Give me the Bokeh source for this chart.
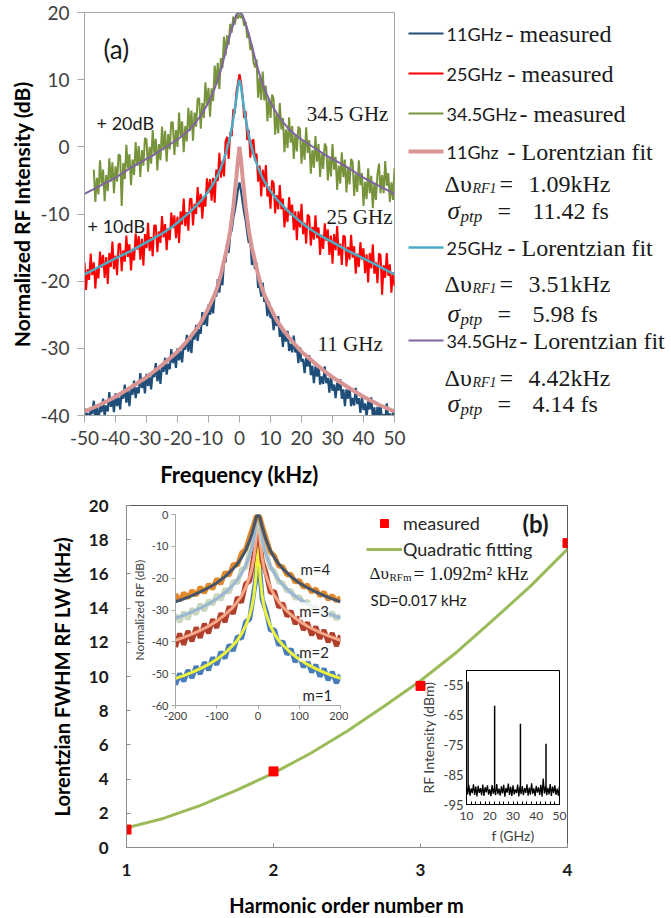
from bokeh.plotting import figure
from bokeh.models import Range1d, FixedTicker, Label, Legend, LegendItem
from bokeh.embed import file_html
from bokeh.resources import INLINE

SANS = "Lato"
SERIF = "Liberation Serif"

# ================= Panel (a): RF spectra =================
A_FREQ = [v / 2 for v in range(-100, 101)]          # -50 ... 50 kHz, 0.5 kHz steps
A_FREQ_345 = [v / 2 for v in range(-94, 101)]       # -47 ... 50 kHz
A_MEAS_11 = [
    -38.9, -40.8, -39.6, -41.4, -38.8, -39.8, -37.8, -40.5, -38.8, -41.1,
    -38.3, -39.5, -37.5, -40.1, -38.5, -39.4, -36.5, -38.7, -37.5, -39.5,
    -36.7, -38.6, -37.3, -39.1, -36.5, -37.5, -35.4, -38.1, -36.3, -38.6,
    -35.7, -36.9, -34.8, -37.4, -35.8, -36.7, -33.7, -35.9, -34.7, -36.7,
    -33.8, -35.6, -34.3, -36.1, -33.4, -34.3, -32.2, -34.9, -33.1, -35.3,
    -32.4, -33.5, -31.4, -33.9, -32.3, -33.1, -30.1, -32.2, -31.0, -32.9,
    -30.0, -31.8, -30.4, -32.1, -29.3, -30.2, -28.0, -30.5, -28.6, -30.7,
    -27.7, -28.7, -26.5, -28.9, -27.1, -27.8, -24.6, -26.5, -25.1, -26.7,
    -23.5, -25.0, -23.4, -24.8, -21.8, -22.3, -19.7, -21.7, -19.2, -20.6,
    -16.9, -17.2, -14.3, -15.8, -13.1, -12.4, -10.6, -9.5, -8.0, -6.4,
    -5.3,
    -6.6, -8.2, -9.8, -11.0, -12.8, -14.3, -14.0, -17.6, -15.9, -18.2,
    -17.3, -21.0, -20.5, -22.3, -20.2, -23.1, -22.6, -25.2, -23.0, -25.5,
    -24.9, -27.3, -25.2, -26.7, -25.2, -28.3, -27.1, -29.8, -27.4, -29.0,
    -27.4, -30.4, -29.3, -30.6, -28.1, -30.6, -29.9, -32.2, -29.8, -32.0,
    -31.6, -33.7, -31.4, -32.7, -31.0, -34.0, -32.6, -35.2, -32.7, -34.2,
    -32.5, -35.4, -34.2, -35.3, -32.7, -35.2, -34.4, -36.6, -34.1, -36.3,
    -35.4, -37.4, -35.1, -36.3, -34.6, -37.5, -36.1, -38.6, -36.1, -37.5,
    -35.8, -38.6, -37.4, -38.5, -35.9, -38.3, -37.4, -39.6, -37.1, -39.2,
    -38.2, -40.2, -37.9, -39.1, -37.3, -40.2, -38.8, -41.3, -38.7, -40.1,
    -38.3, -41.1, -39.8, -40.9, -38.2, -40.6, -39.7, -41.9, -39.3, -41.4]
A_MEAS_25 = [
    -17.2, -21.3, -18.2, -19.8, -15.9, -19.1, -17.2, -21.1, -17.9, -19.6,
    -15.6, -18.0, -16.1, -19.5, -16.4, -20.4, -15.8, -17.9, -14.1, -18.2,
    -16.2, -19.1, -14.5, -14.4, -18.5, -15.4, -17.1, -13.2, -16.4, -14.5,
    -18.4, -15.2, -16.9, -12.9, -15.3, -13.3, -16.8, -13.7, -17.7, -13.0,
    -15.1, -11.3, -15.5, -13.4, -16.3, -11.7, -11.7, -15.7, -12.6, -14.3,
    -10.3, -13.5, -11.5, -15.4, -12.1, -13.9, -9.8, -12.1, -10.2, -13.6,
    -10.4, -14.3, -9.6, -11.6, -7.7, -11.8, -9.7, -12.5, -7.8, -7.7,
    -11.7, -8.5, -10.0, -6.0, -9.0, -7.0, -10.7, -7.3, -8.9, -4.7,
    -6.9, -4.8, -8.0, -4.6, -8.3, -3.4, -5.1, -0.9, -4.6, -2.1,
    -4.4, 0.8, 1.5, -1.8, 2.2, 1.6, 5.6, 5.0, 8.2, 9.5,
    10.8,
    9.6, 7.6, 4.3, 5.3, 1.0, 2.5, -1.6, 0.8, 1.1, -2.1,
    -1.0, -5.2, -2.8, -7.4, -3.4, -6.0, -2.7, -7.4, -5.9, -9.2,
    -5.0, -5.4, -9.9, -7.2, -9.3, -5.7, -9.3, -7.7, -12.0, -9.1,
    -11.2, -7.5, -10.2, -8.6, -12.4, -9.6, -13.9, -9.6, -12.0, -8.5,
    -13.0, -11.3, -14.4, -10.1, -10.4, -14.7, -11.9, -13.8, -10.2, -13.6,
    -12.0, -16.1, -13.1, -15.2, -11.4, -14.0, -12.3, -16.1, -13.2, -17.4,
    -13.0, -15.4, -11.8, -16.2, -14.4, -17.6, -13.2, -13.4, -17.8, -14.9,
    -16.8, -13.1, -16.5, -14.8, -18.9, -15.9, -17.9, -14.2, -16.8, -15.1,
    -18.8, -16.0, -20.2, -15.8, -18.1, -14.5, -18.9, -17.2, -20.3, -15.9,
    -16.1, -22.0, -17.6, -19.5, -15.8, -19.2, -17.5, -21.7, -18.7, -20.7]
A_MEAS_345 = [
    -3.4, -8.2, -4.6, -7.1, -2.0, -5.5, -3.4, -8.1, -4.2, -6.6,
    -1.7, -5.2, -2.3, -6.9, -2.9, -5.2, -1.1, -1.3, -8.8, -2.4,
    -4.8, 0.3, -3.2, -1.1, -5.7, -1.9, -4.2, 0.7, -2.8, 0.1,
    -4.5, -0.5, -2.8, 1.3, 1.1, -3.7, 0.0, -2.5, 2.5, -1.0,
    1.2, -3.5, 0.4, -2.0, 3.0, -0.5, 2.4, -2.2, 1.9, -0.4,
    3.7, 3.6, -1.2, 2.5, 0.0, 5.1, 1.6, 3.8, -0.8, 3.1,
    0.8, 5.8, 2.4, 5.4, 0.9, 5.1, 3.0, 7.2, 7.2, 2.7,
    6.5, 4.3, 9.6, 6.4, 8.8, 4.5, 8.7, 6.8, 12.1, 9.2,
    12.5, 8.6, 13.2, 11.7, 16.4,
    13.6, 16.6, 15.2, 18.3, 17.0, 19.4, 18.2, 19.8, 19.1, 19.7,
    19.2, 19.5, 18.0, 18.6, 16.2, 16.9, 14.4, 15.3, 12.6,
    11.8, 13.0, 7.3, 10.3, 7.0, 11.2, 6.9, 9.1, 3.8, 7.2,
    4.3, 7.8, 7.1, 1.8, 4.9, 2.0, 6.5, 2.6, 4.3, -0.8,
    2.6, -0.2, 4.4, 0.6, 3.1, -1.8, 1.9, -0.7, 3.0, 2.6,
    -2.5, 0.9, -1.9, 2.9, -0.9, 1.0, -4.0, -0.5, -3.1, 1.6,
    -2.2, 0.4, -4.5, -0.8, -3.3, 0.5, 0.0, -5.0, -1.6, -4.4,
    0.4, -3.4, -1.5, -6.4, -2.8, -5.5, -0.8, -4.5, -1.9, -6.8,
    -3.0, -5.6, -1.8, -2.3, -7.3, -4.0, -6.7, -2.0, -5.7, -3.9,
    -8.8, -5.2, -7.8, -3.2, -6.9, -4.3, -9.1, -5.4, -7.9, -4.1,
    -2.5, -6.9, -4.2, -6.9, -2.1, -5.8, -3.9, -8.2, -5.3, -7.9, -3.2]
A_FIT_X = [-50, -45, -40, -35, -30, -28, -25, -22, -20, -18, -16, -14, -12, -10, -9, -8, -7,
           -6, -5, -4, -3, -2, -1, -0.5, 0, 0.5, 1, 2, 3, 4, 5, 6, 7, 8, 9, 10, 12, 14, 16,
           18, 20, 22, 25, 28, 30, 35, 40, 45, 50]
A_FIT_11 = [-39.4, -38.4, -37.2, -35.8, -34.3, -33.6, -32.5, -31.3, -30.5, -29.5, -28.4, -27.2,
            -25.8, -24.0, -23.0, -22.0, -20.7, -19.0, -17.0, -15.0, -12.5, -9.0, -4.5, -2.0,
            0.0,
            -2.0, -4.5, -9.0, -12.5, -15.0, -17.0, -19.0, -20.7, -22.0, -23.0, -24.0, -25.8,
            -27.2, -28.4, -29.5, -30.5, -31.3, -32.5, -33.6, -34.3, -35.8, -37.2, -38.4, -39.4]
A_FIT_25 = [-19.0, -17.8, -16.6, -15.5, -14.2, -13.7, -12.9, -12.0, -11.3, -10.5, -9.7, -8.8,
            -7.8, -6.6, -5.9, -5.1, -4.2, -3.1, -1.8, -0.3, 1.6, 4.1, 7.2, 9.0,
            10.0,
            9.0, 7.2, 4.1, 1.6, -0.3, -1.8, -3.1, -4.2, -5.1, -5.9, -6.6, -7.8,
            -8.8, -9.7, -10.5, -11.3, -12.0, -12.9, -13.7, -14.2, -15.5, -16.6, -17.8, -19.0]
A_FIT_345 = [-7.0, -5.8, -4.6, -3.1, -1.8, -1.3, -0.4, 0.5, 1.1, 1.8, 2.6, 3.7,
             5.0, 6.6, 7.6, 8.7, 10.0, 11.5, 13.2, 15.0, 16.8, 18.3, 19.6, 19.9,
             20.0,
             19.9, 19.6, 18.3, 16.8, 15.0, 13.2, 11.5, 10.0, 8.7, 7.6, 6.6, 5.0,
             3.7, 2.6, 1.8, 1.1, 0.5, -0.4, -1.3, -1.8, -3.1, -4.6, -5.8, -7.0]
A_XTICKS = [-50, -40, -30, -20, -10, 0, 10, 20, 30, 40, 50]
A_XLABELS = ["-50", "-40", "-30", "-20", "-10", "0", "10", "20", "30", "40", "50"]
A_YTICKS = [-40, -30, -20, -10, 0, 10, 20]
A_YLABELS = ["-40", "-30", "-20", "-10", "0", "10", "20"]

# legend of panel (a)
LEG_NAMES = ["11GHz", "25GHz", "34.5GHz", "11Ghz", "25GHz", "34.5GHz"]
LEG_KINDS = ["- measured", "- measured", "- measured",
             "- Lorentzian fit", "- Lorentzian fit", "- Lorentzian fit"]
LEG_COLORS = ["#1f4e79", "#ff0000", "#77933c", "#d99594", "#4bacc6", "#8064a2"]
FIT_DV = ["1.09kHz", "3.51kHz", "4.42kHz"]
FIT_SIGMA = ["11.42 fs", "5.98 fs", "4.14 fs"]

# ================= Panel (b): linewidth vs harmonic =================
M_ORDER = [1, 2, 3, 4]
LW_MEAS = [1.05, 4.45, 9.45, 17.8]
FIT_M = [1.0, 1.25, 1.5, 1.75, 2.0, 2.25, 2.5, 2.75, 3.0, 3.25, 3.5, 3.75, 4.0]
FIT_LW = [1.15, 1.7, 2.45, 3.35, 4.35, 5.5, 6.8, 8.25, 9.75, 11.45, 13.35, 15.3, 17.45]
B_XTICKS = [1, 2, 3, 4]
B_XLABELS = ["1", "2", "3", "4"]
B_YTICKS = [0, 2, 4, 6, 8, 10, 12, 14, 16, 18, 20]
B_YLABELS = ["0", "2", "4", "6", "8", "10", "12", "14", "16", "18", "20"]

# inset 1: normalized spectra of harmonics m = 1..4
I_X_MEAS = list(range(-200, 0, 10)) + [-5, 0, 5] + list(range(10, 201, 10))
I_M4_MEAS = [-25.0, -27.1, -24.6, -26.2, -23.9, -25.4, -22.8, -24.6, -21.9, -23.4,
             -20.2, -21.8, -18.1, -19.2, -15.6, -16.0, -12.1, -10.9, -6.8, -3.0,
             -0.8, 0.0, -1.0,
             -3.4, -7.6, -11.8, -12.9, -16.2, -16.4, -19.0, -18.7, -21.3, -20.6,
             -22.9, -22.1, -24.4, -23.3, -25.6, -24.4, -26.7, -25.4, -27.2, -26.0]
I_M3_MEAS = [-31.4, -33.8, -30.6, -32.9, -29.6, -31.3, -28.1, -30.2, -26.9, -28.3,
             -25.1, -26.9, -23.3, -24.6, -20.8, -21.6, -17.2, -16.8, -11.4, -6.6,
             -2.9, -0.5, -3.5,
             -7.9, -12.1, -16.9, -17.8, -21.3, -21.4, -24.1, -23.8, -26.4, -25.7,
             -28.0, -27.2, -29.5, -28.6, -30.8, -29.7, -31.9, -30.7, -32.9, -31.6]
I_M2_MEAS = [-41.6, -37.4, -40.9, -36.6, -39.8, -35.5, -38.7, -34.3, -37.3, -32.9,
             -35.6, -31.0, -33.8, -28.9, -31.2, -26.0, -27.6, -21.8, -20.9, -12.6,
             -8.9, -1.0, -7.6,
             -14.5, -18.6, -24.6, -24.1, -29.2, -27.9, -32.0, -30.3, -34.4, -32.2,
             -36.3, -33.9, -37.9, -35.2, -39.0, -36.3, -40.1, -37.2, -41.3, -38.0]
I_M1_MEAS = [-53.5, -50.0, -52.4, -48.9, -51.3, -47.7, -50.1, -46.4, -48.9, -44.9,
             -47.2, -43.1, -45.2, -40.9, -42.8, -38.3, -39.0, -33.7, -32.9, -24.2,
             -20.3, -3.0, -18.7,
             -26.6, -30.4, -36.4, -36.2, -41.1, -39.8, -44.0, -42.2, -46.3, -44.2,
             -48.0, -45.8, -49.6, -47.2, -50.9, -48.4, -52.0, -49.4, -53.0, -50.4]
I_X_FIT = [-200, -180, -160, -140, -120, -100, -80, -60, -50, -40, -30, -20, -15, -10, -5, -2,
           0, 2, 5, 10, 15, 20, 30, 40, 50, 60, 80, 100, 120, 140, 160, 180, 200]
I_M4_FIT = [-27.4, -26.5, -25.5, -24.3, -23.0, -21.5, -19.5, -17.0, -15.5, -13.6, -11.3, -8.1,
            -6.1, -3.7, -1.2, -0.2, 0.0, -0.2, -1.2, -3.7, -6.1, -8.1, -11.3, -13.6, -15.5,
            -17.0, -19.5, -21.5, -23.0, -24.3, -25.5, -26.5, -27.4]
I_M3_FIT = [-32.5, -31.6, -30.6, -29.4, -28.1, -26.5, -24.6, -22.1, -20.5, -18.6, -16.1, -12.7,
            -10.4, -7.3, -3.2, -0.7, 0.0, -0.7, -3.2, -7.3, -10.4, -12.7, -16.1, -18.6, -20.5,
            -22.1, -24.6, -26.5, -28.1, -29.4, -30.6, -31.6, -32.5]
I_M2_FIT = [-39.5, -38.6, -37.6, -36.4, -35.1, -33.5, -31.5, -29.0, -27.4, -25.5, -23.0, -19.5,
            -17.1, -13.6, -8.2, -2.8, 0.0, -2.8, -8.2, -13.6, -17.1, -19.5, -23.0, -25.5, -27.4,
            -29.0, -31.5, -33.5, -35.1, -36.4, -37.6, -38.6, -39.5]
I_M1_FIT = [-51.5, -50.6, -49.6, -48.4, -47.1, -45.5, -43.5, -41.0, -39.5, -37.5, -35.0, -31.5,
            -29.0, -25.5, -19.5, -11.7, 0.0, -11.7, -19.5, -25.5, -29.0, -31.5, -35.0, -37.5,
            -39.5, -41.0, -43.5, -45.5, -47.1, -48.4, -49.6, -50.6, -51.5]
I_XTICKS = [-200, -100, 0, 100, 200]
I_XLABELS = ["-200", "-100", "0", "100", "200"]
I_YTICKS = [-60, -50, -40, -30, -20, -10, 0]
I_YLABELS = ["-60", "-50", "-40", "-30", "-20", "-10", "0"]

# inset 2: RF spectrum 10-50 GHz
SPEC_F = [v / 2 for v in range(20, 101)]
SPEC_P = [-89.1, -91.6, -88.4, -92.0, -89.6, -91.2, -88.2, -91.8, -89.0, -92.3,
          -88.7, -91.1, -89.5, -91.9, -88.3, -92.1, -89.2, -90.9, -88.6, -91.7,
          -89.8, -92.2, -88.5, -91.4, -89.3, -91.9, -88.1, -91.5, -89.7, -92.0,
          -88.9, -91.3, -88.4, -92.4, -89.4, -91.0, -88.0, -91.8, -89.1, -92.1,
          -88.6, -91.6, -89.9, -91.2, -88.3, -92.3, -89.0, -91.5, -88.8, -91.9,
          -89.5, -91.1, -88.2, -92.0, -89.3, -91.7, -87.9, -91.4, -89.6, -92.2,
          -88.7, -91.0, -89.2, -91.8, -88.4, -92.4, -86.3, -91.3, -88.9, -91.9,
          -89.4, -91.6, -88.1, -92.1, -89.0, -91.2, -88.6, -91.8, -89.7, -92.0, -88.8]
PEAK_F = [10.7, 22.1, 33.2, 44.2]
PEAK_P = [-53.7, -61.8, -67.9, -74.6]
PEAK_BASE = [-90.4, -90.0, -89.6, -90.2]
S_XTICKS = [10, 20, 30, 40, 50]
S_XMINOR = [12, 14, 16, 18, 22, 24, 26, 28, 32, 34, 36, 38, 42, 44, 46, 48]
S_XLABELS = ["10", "20", "30", "40", "50"]
S_YTICKS = [-95, -85, -75, -65, -55]
S_YLABELS = ["-95", "-85", "-75", "-65", "-55"]


def base_fig(xr, yr, fw, fh, left, right, top, bottom, **kw):
    p = figure(x_range=Range1d(*xr), y_range=Range1d(*yr), frame_width=fw, frame_height=fh,
               min_border_left=left, min_border_right=right, min_border_top=top,
               min_border_bottom=bottom, output_backend="svg", toolbar_location=None, **kw)
    p.xgrid.visible = False
    p.ygrid.visible = False
    p.background_fill_alpha = 0
    p.border_fill_alpha = 0
    return p


def style_axis(ax, ticks, labels, size, color, bold=False, t_in=0, t_out=5, line="#a6a6a6",
               standoff=5, lab_size="18px", lab_bold=True, lab_standoff=5, minor=None):
    ax.ticker = FixedTicker(ticks=ticks, minor_ticks=minor or [])
    ax.major_label_overrides = {t: l for t, l in zip(ticks, labels)}
    ax.major_label_text_font = SANS
    ax.major_label_text_font_size = size
    ax.major_label_text_color = color
    ax.major_label_text_font_style = "bold" if bold else "normal"
    ax.major_label_standoff = standoff
    ax.axis_line_color = line
    ax.major_tick_line_color = line
    ax.major_tick_in = t_in
    ax.major_tick_out = t_out
    if minor:
        ax.minor_tick_line_color = line
        ax.minor_tick_in = t_in
        ax.minor_tick_out = t_out
    else:
        ax.minor_tick_line_color = None
    ax.axis_label_text_font = SANS
    ax.axis_label_text_font_size = lab_size
    ax.axis_label_text_font_style = "bold" if lab_bold else "normal"
    ax.axis_label_text_color = "#000000" if lab_bold else "#404040"
    ax.axis_label_standoff = lab_standoff


def note(p, x, y, text, font=SANS, size="18px", style="normal", color="#1a1a1a", **kw):
    p.add_layout(Label(x=x, y=y, text=text, text_font=font, text_font_size=size,
                       text_font_style=style, text_color=color, text_baseline="middle", **kw))


# ---------- figure (a)
pa = base_fig((-50, 50), (-40, 20), 310, 403, 84, 14, 12, 76,
              x_axis_label="Frequency (kHz)", y_axis_label="Normalized RF Intensity (dB)")
pa.outline_line_color = "#a6a6a6"
style_axis(pa.xaxis[0], A_XTICKS, A_XLABELS, "19px", "#404040", t_out=7, standoff=8,
           lab_size="22px", lab_standoff=13)
style_axis(pa.yaxis[0], A_YTICKS, A_YLABELS, "19px", "#404040", t_out=7, standoff=8,
           lab_size="21px", lab_standoff=3)
pa.line(A_FREQ_345, A_MEAS_345, color=LEG_COLORS[2], line_width=2)
pa.line(A_FIT_X, A_FIT_345, color=LEG_COLORS[5], line_width=2)
pa.line(A_FREQ, A_MEAS_25, color=LEG_COLORS[1], line_width=2)
pa.line(A_FIT_X, A_FIT_25, color=LEG_COLORS[4], line_width=2.5)
pa.line(A_FREQ, A_MEAS_11, color=LEG_COLORS[0], line_width=2.2)
pa.line(A_FIT_X, A_FIT_11, color=LEG_COLORS[3], line_width=4)
note(pa, -43.9, 14.6, "(a)", size="26px")
note(pa, -46.1, 3.6, "+ 20dB", size="18px")
note(pa, -49.0, -11.8, "+ 10dB", size="18px")
note(pa, 21.7, 4.9, "34.5 GHz", font=SERIF, size="21px")
note(pa, 28.1, -10.4, "25 GHz", font=SERIF, size="21px")
note(pa, 25.2, -29.4, "11 GHz", font=SERIF, size="21px")

# ---------- legend of (a), laid out in page pixels
pl = figure(x_range=Range1d(398, 671), y_range=Range1d(420, 0), frame_width=273,
            frame_height=420, min_border=0, x_axis_location=None, y_axis_location=None,
            output_backend="svg", toolbar_location=None)
pl.grid.visible = False
pl.outline_line_color = None
pl.background_fill_alpha = 0
pl.border_fill_alpha = 0
ROW_Y = [33, 73, 113, 151, 247, 340]
KIND_X = [505, 507, 519, 507, 507, 519]
pl.segment(x0=[408] * 6, y0=ROW_Y, x1=[443] * 6, y1=ROW_Y, color=LEG_COLORS,
           line_width=[2, 2, 2, 4, 2.5, 2])
for name, kind, y, kx in zip(LEG_NAMES, LEG_KINDS, ROW_Y, KIND_X):
    note(pl, 446, y, name, size="18px")
    note(pl, kx, y, kind, font=SERIF, size="24px")
DV_Y = [183, 283, 377]
SG_Y = [210, 313, 403]
for dv, sg, yd, ys in zip(FIT_DV, FIT_SIGMA, DV_Y, SG_Y):
    note(pl, 444, yd, "Δυ", font=SERIF, size="24px")
    note(pl, 472, yd + 5, "RF1", font=SERIF, size="14px", style="italic")
    note(pl, 499, yd, "=", font=SERIF, size="24px")
    note(pl, 528, yd, dv, font=SERIF, size="24px")
    note(pl, 447, ys, "σ", font=SERIF, size="25px", style="italic")
    note(pl, 460, ys + 6, "ptp", font=SERIF, size="17px", style="italic")
    note(pl, 497, ys, "=", font=SERIF, size="24px")
    note(pl, 532, ys, sg, font=SERIF, size="24px")

# ---------- figure (b)
pb = base_fig((1, 4), (0, 20), 441, 342, 126, 30, 15, 70,
              x_axis_label="Harmonic order number m", y_axis_label="Lorentzian FWHM RF LW (kHz)")
pb.outline_line_color = "#595959"
style_axis(pb.xaxis[0], B_XTICKS, B_XLABELS, "17px", "#1a1a1a", bold=True, t_in=4, t_out=0,
           line="#8c8c8c", standoff=16, lab_size="20px", lab_standoff=14)
style_axis(pb.yaxis[0], B_YTICKS, B_YLABELS, "17px", "#1a1a1a", bold=True, t_in=4, t_out=0,
           line="#8c8c8c", standoff=18, lab_size="20px", lab_standoff=12)
r_fit = pb.line(FIT_M, FIT_LW, color="#9bbb59", line_width=3)
r_meas = pb.scatter(M_ORDER, LW_MEAS, marker="square", size=9, color="#ff0000")
leg = Legend(items=[LegendItem(label="measured", renderers=[r_meas]),
                    LegendItem(label="Quadratic fitting", renderers=[r_fit])],
             location=(240, 287), glyph_width=36, glyph_height=20, label_height=20,
             spacing=4, padding=0, margin=0, label_standoff=1,
             label_text_font=SANS, label_text_font_size="18px", label_text_color="#262626",
             border_line_alpha=0, background_fill_alpha=0)
pb.add_layout(leg)
note(pb, 2.653, 16.02, "Δυ", font=SERIF, size="17px")
note(pb, 2.789, 15.80, "RFm", font=SERIF, size="11px")
note(pb, 2.952, 16.02, "= 1.092m² kHz", font=SERIF, size="19px")
note(pb, 2.660, 14.50, "SD=0.017 kHz", size="15px")
note(pb, 3.694, 18.95, "(b)", size="24px", style="bold")

# ---------- inset 1
pi = base_fig((-200, 200), (-60, 0), 165, 191, 45, 8, 10, 28,
              y_axis_label="Normalized RF (dB)")
pi.outline_line_color = None
style_axis(pi.xaxis[0], I_XTICKS, I_XLABELS, "11px", "#404040", t_in=0, t_out=3,
           standoff=3)
style_axis(pi.yaxis[0], I_YTICKS, I_YLABELS, "11px", "#404040", t_in=0, t_out=4,
           standoff=3, lab_size="12px", lab_bold=False, lab_standoff=2)
for meas, fit, cm, cf in [(I_M1_MEAS, I_M1_FIT, "#4a7ebb", "#eef23c"),
                          (I_M2_MEAS, I_M2_FIT, "#b0402c", "#f7a889"),
                          (I_M3_MEAS, I_M3_FIT, "#c9d8bc", "#9bb7d4"),
                          (I_M4_MEAS, I_M4_FIT, "#e3892b", "#44546a")]:
    pi.line(I_X_MEAS, meas, color=cm, line_width=5)
    pi.line(I_X_FIT, fit, color=cf, line_width=3)
for txt, x, y in [("m=4", 103, -17.2), ("m=3", 100, -30.4), ("m=2", 100, -43.3),
                  ("m=1", 108, -56.8)]:
    note(pi, x, y, txt, size="15px", color="#262626", background_fill_color="white",
         background_fill_alpha=0.8 if txt in ("m=3", "m=2") else 0)

# ---------- inset 2
ps = base_fig((10, 50), (-95, -50), 93, 134, 50, 10, 8, 45,
              x_axis_label="f (GHz)", y_axis_label="RF Intensity (dBm)")
ps.outline_line_color = "#000000"
style_axis(ps.xaxis[0], S_XTICKS, S_XLABELS, "12px", "#404040", t_in=3, t_out=0,
           line="#000000", standoff=7, lab_size="14px", lab_bold=False, lab_standoff=4,
           minor=S_XMINOR)
style_axis(ps.yaxis[0], S_YTICKS, S_YLABELS, "13px", "#404040", t_in=0, t_out=0,
           line="#000000", standoff=3, lab_size="14px", lab_bold=False, lab_standoff=4)
ps.line(SPEC_F, SPEC_P, color="black", line_width=1.3)
ps.segment(x0=PEAK_F, y0=PEAK_BASE, x1=PEAK_F, y1=PEAK_P, color="black", line_width=1.5)

# ---------- page: panels placed at absolute pixel positions
PLACES = [(0, 0), (398, 0), (0, 490), (128, 504), (416, 662)]
divs = "".join('<div style="position:absolute;left:%dpx;top:%dpx;">{{ embed(roots[%d]) }}</div>\n'
               % (x, y, i) for i, (x, y) in enumerate(PLACES))
TEMPLATE = "{% block contents %}\n{% from macros import embed %}\n" + divs + "{% endblock %}\n"

html = file_html([pa, pl, pb, pi, ps], INLINE, title="RF linewidth", template=TEMPLATE)
open("out.html", "w").write(html)
